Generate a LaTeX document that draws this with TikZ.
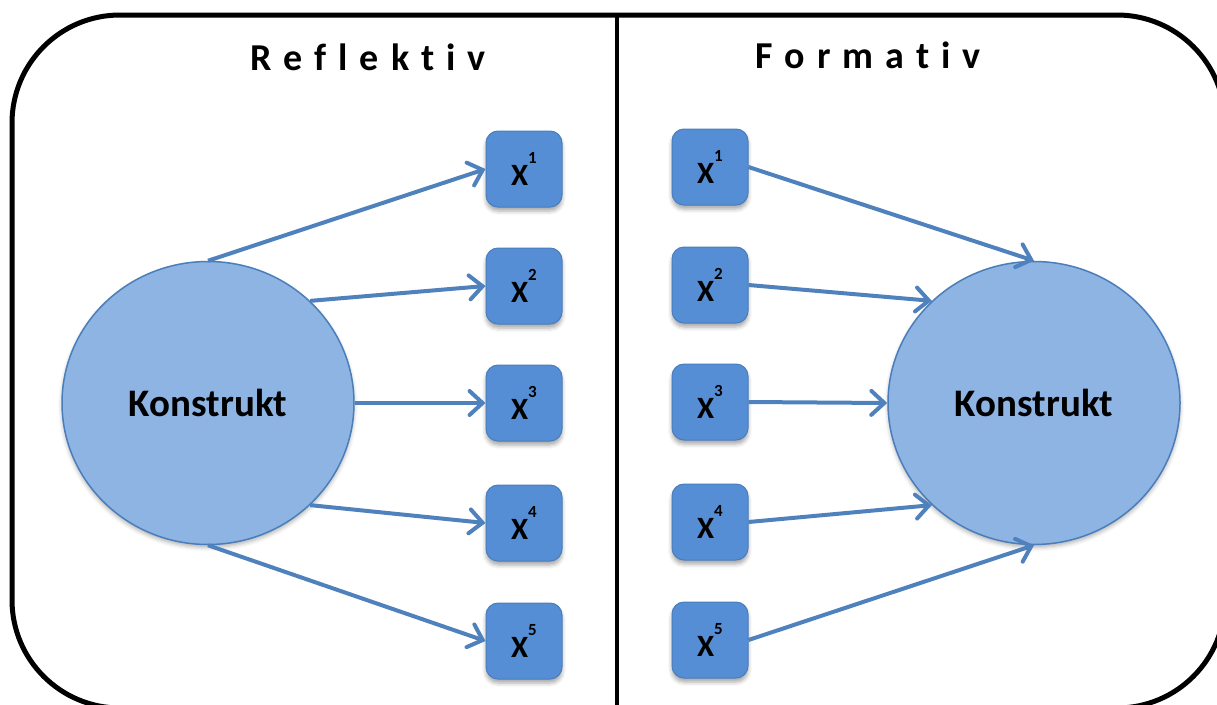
\documentclass[tikz,border=0pt]{standalone}
\usepackage{fontspec}
\setmainfont{Carlito}
\usetikzlibrary{arrows.meta,shapes.geometric,shadows.blur}
\definecolor{constructfill}{HTML}{8EB4E3}
\definecolor{edgeblue}{HTML}{4A7EBB}
\definecolor{itemfill}{HTML}{558ED5}
\definecolor{arrowblue}{HTML}{4F81BD}
\tikzset{
  construct/.style={ellipse, draw=edgeblue, line width=1.5pt, fill=constructfill,
    minimum width=292pt, minimum height=283pt, inner sep=0pt,
    font=\fontsize{39}{39}\selectfont\bfseries,
    blur shadow={shadow xshift=0pt, shadow yshift=-3pt, shadow blur radius=4pt, shadow opacity=30}},
  item/.style={rectangle, rounded corners=12pt, draw=edgeblue, line width=1pt, fill=itemfill,
    minimum width=76pt, minimum height=76pt, inner sep=0pt, font=\bfseries,
    blur shadow={shadow xshift=0pt, shadow yshift=-4pt, shadow blur radius=4pt, shadow opacity=35}},
  link/.style={draw=arrowblue, line width=4pt, -{Straight Barb[length=13pt,width=24pt,line cap=round]}},
  heading/.style={font=\fontsize{38}{38}\selectfont\bfseries},
  frame/.style={line width=5pt, rounded corners=108pt},
  divider/.style={line width=4pt}
}
\newcommand{\indic}[1]{{\fontsize{31}{31}\selectfont X}\raisebox{22pt}{\fontsize{17}{17}\selectfont #1}}
\begin{document}
\begin{tikzpicture}[x=1pt,y=-1pt]
  \clip (0,0) rectangle (1217,704);
  % outer frame and divider
  \draw[frame] (12,15) rectangle (1225,708);
  \draw[divider] (617,15) -- (617,708);
  % headings
  \node[heading] (hl) at (368,57) {\spaceskip=12pt R e f l e k t i v};
  \node[heading] (hr) at (868,55) {\spaceskip=12pt F o r m a t i v};
  % reflective side
  \node[construct] (kl) at (208,403) {Konstrukt};
  \foreach \i/\y in {1/169,2/286,3/403,4/523,5/641}{
    \node[item] (l\i) at (524,\y) {\indic{\i}};
  }
  \draw[link] (kl.north) -- (l1.west);
  \draw[link] (kl.45) -- (l2.west);
  \draw[link] (kl.east) -- (l3.west);
  \draw[link] (kl.-45) -- (l4.west);
  \draw[link] (kl.south) -- (l5.west);
  % formative side
  \node[construct] (kr) at (1034,403) {Konstrukt};
  \foreach \i/\y in {1/167,2/285,3/402,4/522,5/640}{
    \node[item] (r\i) at (710,\y) {\indic{\i}};
  }
  \draw[link] (r1.east) -- (kr.north);
  \draw[link] (r2.east) -- (kr.135);
  \draw[link] (r3.east) -- (kr.west);
  \draw[link] (r4.east) -- (kr.225);
  \draw[link] (r5.east) -- (kr.south);
\end{tikzpicture}
\end{document}
